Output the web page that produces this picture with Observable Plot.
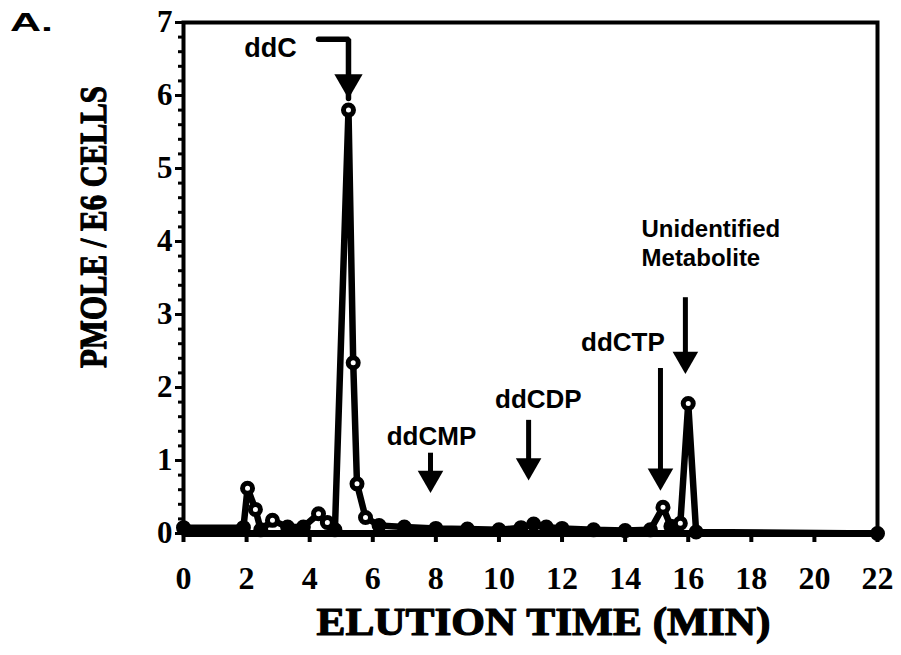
<!DOCTYPE html>
<html>
<head>
<meta charset="utf-8">
<script src="https://cdn.jsdelivr.net/npm/d3@7"></script>
<script src="https://cdn.jsdelivr.net/npm/@observablehq/plot@0.6"></script>
<style>
  html, body { margin: 0; padding: 0; background: white; }
  #chart svg { display: block; overflow: visible; }
</style>
</head>
<body>
<div id="chart"></div>
<script>
// Elution time (min) and radioactivity (pmole / 1e6 cells)
const time  = [0, 1.9, 2.03, 2.28, 2.45, 2.82, 3.3, 3.8, 4.28, 4.56, 4.8, 5.23, 5.38, 5.5, 5.77, 6.2, 7, 8, 9, 10, 10.7, 11.1, 11.5, 12, 13, 14, 14.8, 15.2, 15.45, 15.75, 16.0, 16.25, 22];
const pmole = [0.08, 0.08, 0.62, 0.33, 0.05, 0.18, 0.09, 0.09, 0.27, 0.15, 0.05, 5.8, 2.34, 0.68, 0.22, 0.11, 0.09, 0.07, 0.06, 0.05, 0.08, 0.13, 0.09, 0.07, 0.05, 0.04, 0.05, 0.36, 0.1, 0.14, 1.78, 0.02, 0];

// Axis ticks
const xTicks = [0, 2, 4, 6, 8, 10, 12, 14, 16, 18, 20, 22];
const yTicks = [0, 1, 2, 3, 4, 5, 6, 7];
const yMinorTicks = d3.range(0, 36).map(i => i / 5);

// Peak annotations (data units)
const peakNames  = ["ddCMP", "ddCDP", "ddCTP"];
const labelTime  = [7.86, 11.25, 13.93];
const labelValue = [1.32, 1.84, 2.62];
const arrowTime  = [7.83, 10.94, 15.12];
const arrowTop   = [1.10, 1.55, 2.26];
const arrowTip   = [0.56, 0.73, 0.59];

// ddC bent arrow
const ddcLabel = { name: "ddC", t: 2.76, v: 6.64 };
const ddcArrowT = [4.28, 5.23, 5.23];
const ddcArrowV = [6.77, 6.77, 5.96];

// Unidentified metabolite
const unkLabel = { name: "Unidentified\nMetabolite", t: 14.52, v: 3.99 };
const unkArrow = { t: 15.91, top: 3.23, tip: 2.19 };

// Panel letter
const panelLabel = { name: "A.", t: -5.5, v: 7.0 };

const data = time.map((t, i) => ({ t, v: pmole[i] }));
const peaks = peakNames.map((name, i) => ({ name, lt: labelTime[i], lv: labelValue[i], at: arrowTime[i], top: arrowTop[i], tip: arrowTip[i] }));
peaks.push({ name: null, at: unkArrow.t, top: unkArrow.top, tip: unkArrow.tip });
const ddcPath = ddcArrowT.map((t, i) => ({ t, v: ddcArrowV[i] }));

const serif = "'Liberation Serif', 'DejaVu Serif', serif";
const sans = "'Liberation Sans', Arial, sans-serif";

const chart = Plot.plot({
  width: 901,
  height: 655,
  marginLeft: 183,
  marginRight: 24,
  marginTop: 22,
  marginBottom: 122,
  x: { domain: [0, 22], label: null },
  y: { domain: [0, 7], label: null },
  style: { background: "white", color: "black" },
  marks: [
    Plot.frame({ strokeWidth: 4 }),
    Plot.ruleY([0], { strokeWidth: 7 }),
    Plot.axisY({ ticks: yMinorTicks, tickSize: 5, strokeWidth: 3, tickFormat: () => "", label: null }),
    Plot.axisY({ ticks: yTicks, tickSize: 8, strokeWidth: 3, tickPadding: 3, tickFormat: d3.format("d"), fontSize: 31, fontFamily: serif, fontWeight: "bold", label: null }),
    Plot.axisX({ ticks: xTicks, tickSize: 9, strokeWidth: 4, tickPadding: 24, tickFormat: d3.format("d"), fontSize: 32, fontFamily: serif, fontWeight: "bold", label: null }),
    // data trace
    Plot.line(data, { x: "t", y: "v", stroke: "black", strokeWidth: 6.5, strokeLinejoin: "round", strokeLinecap: "round" }),
    Plot.dot(data, { x: "t", y: "v", r: 5, fill: d => (d.v >= 0.14 ? "white" : "black"), stroke: "black", strokeWidth: 5 }),
    // arrows
    Plot.ruleX(peaks, { x: "at", y1: "top", y2: "tip", strokeWidth: 5, insetBottom: 10 }),
    Plot.dot(peaks, { x: "at", y: "tip", symbol: "triangle", rotate: 180, r: 9.5, fill: "black", stroke: "none", dy: -14.5 }),
    Plot.line(ddcPath, { x: "t", y: "v", strokeWidth: 5.5, strokeLinejoin: "miter" }),
    Plot.dot([ddcPath[2]], { x: "t", y: "v", symbol: "triangle", rotate: 180, r: 10.5, fill: "black", stroke: "none", dy: -16 }),
    // labels
    Plot.text(peaks.filter(d => d.name), { x: "lt", y: "lv", text: "name", fontSize: 26, fontFamily: sans, fontWeight: "bold" }),
    Plot.text([ddcLabel], { x: "t", y: "v", text: "name", fontSize: 27, fontFamily: sans, fontWeight: "bold" }),
    Plot.text([unkLabel], { x: "t", y: "v", text: "name", textAnchor: "start", lineHeight: 1.2, fontSize: 24, fontFamily: sans, fontWeight: "bold" }),
    // axis titles
    Plot.text(["ELUTION TIME (MIN)"], { frameAnchor: "bottom", textAnchor: "middle", lineAnchor: "middle", dx: 13, dy: 89, fontSize: 40, fontFamily: serif, fontWeight: "bold", fill: "black", stroke: "black", strokeWidth: 1.2 }),
    Plot.text(["PMOLE / E6 CELLS"], { frameAnchor: "left", textAnchor: "middle", lineAnchor: "middle", dx: -90, dy: -51, rotate: -90, fontSize: 38, fontFamily: serif, fontWeight: "bold", fill: "black", stroke: "black", strokeWidth: 1.2 }),
    Plot.text([panelLabel], { x: "t", y: "v", text: "name", textAnchor: "start", lineAnchor: "middle", fontSize: 26, fontFamily: sans, fontWeight: "bold", fill: "black" })
  ]
});

document.getElementById("chart").appendChild(chart);

function fit(str, len) {
  for (const t of chart.querySelectorAll("text")) {
    if (t.textContent === str) {
      t.setAttribute("textLength", len);
      t.setAttribute("lengthAdjust", "spacingAndGlyphs");
    }
  }
}
fit("ELUTION TIME (MIN)", 454);
fit("PMOLE / E6 CELLS", 282);
fit("A.", 43);
</script>
</body>
</html>
